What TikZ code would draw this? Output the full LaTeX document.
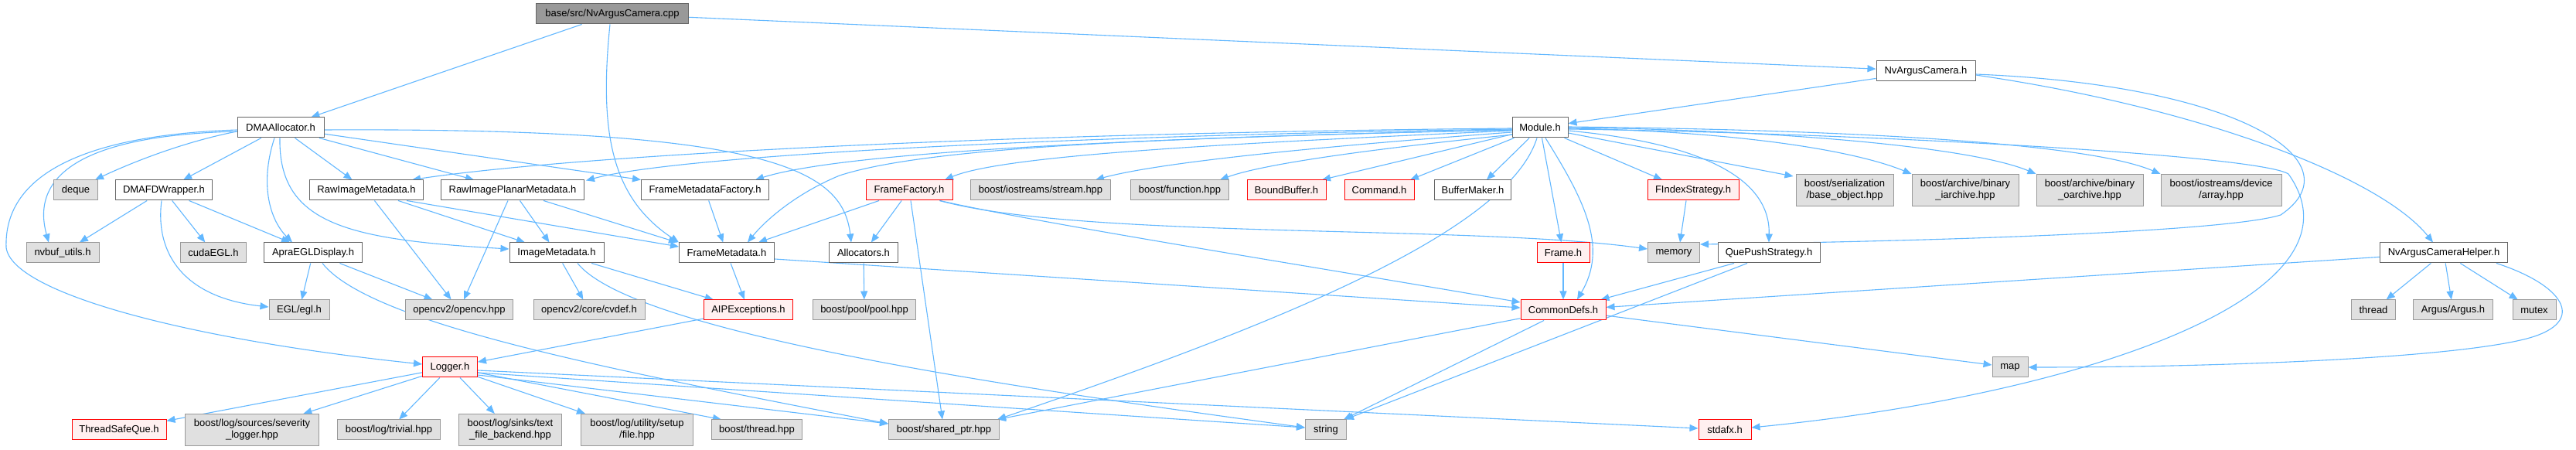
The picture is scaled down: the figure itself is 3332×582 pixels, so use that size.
\documentclass[tikz,border=0pt]{standalone}
\usepackage{fontspec}
\setmainfont{Liberation Sans}
\usetikzlibrary{arrows.meta,calc}
\definecolor{edgec}{HTML}{63B8FF}
\definecolor{wborder}{HTML}{666666}
\definecolor{gborder}{HTML}{999999}
\definecolor{gfill}{HTML}{E0E0E0}
\definecolor{rfill}{HTML}{FFF0F0}
\definecolor{rborder}{HTML}{FF0000}
\definecolor{rootfill}{HTML}{999999}
\pgfdeclarelayer{paper}
\pgfdeclarelayer{bg}
\pgfsetlayers{paper,bg,main}
\begin{document}
\begin{tikzpicture}[x=0.5pt,y=-0.5pt,
 nbase/.style={draw, line width=0.5pt, inner sep=0pt, minimum height=13pt, font=\fontsize{6.5pt}{7.5pt}\selectfont, align=center},
 wbox/.style={nbase, draw=wborder, fill=white},
 gbox/.style={nbase, draw=gborder, fill=gfill},
 rbox/.style={nbase, draw=rborder, fill=rfill},
 rootbox/.style={nbase, draw=wborder, fill=rootfill},
 tall/.style={minimum height=20.5pt},
 e/.style={draw=edgec, line width=0.55pt, -{Triangle[length=5.5pt,width=4.5pt]}},
]
\begin{pgfonlayer}{paper}
\fill[white] (0,0) rectangle (3332,582);
\end{pgfonlayer}
\useasboundingbox (0,0) rectangle (3332,582);
% row 1
\node[rootbox, minimum width=98.5pt] (cpp) at (792,18) {base/src/NvArgusCamera.cpp};
\node[wbox, minimum width=64pt] (nvcamh) at (2491,92) {NvArgusCamera.h};
\node[wbox, minimum width=56pt] (dma) at (363,165) {DMAAllocator.h};
\node[wbox, minimum width=36pt] (module) at (1992,165) {Module.h};
% row 246
\node[gbox, minimum width=28.5pt] (deque) at (98,246) {deque};
\node[wbox, minimum width=62.5pt] (dmafd) at (212,246) {DMAFDWrapper.h};
\node[wbox, minimum width=73.5pt] (rawimg) at (474,246) {RawImageMetadata.h};
\node[wbox, minimum width=92.5pt] (rawplanar) at (663,246) {RawImagePlanarMetadata.h};
\node[wbox, minimum width=82.5pt] (fmf) at (912,246) {FrameMetadataFactory.h};
\node[rbox, minimum width=56pt] (ffact) at (1176,246) {FrameFactory.h};
\node[gbox, minimum width=90.5pt] (stream) at (1346,246) {boost/iostreams/stream.hpp};
\node[gbox, minimum width=63.5pt] (func) at (1526,246) {boost/function.hpp};
\node[rbox, minimum width=51pt] (boundbuf) at (1664,246) {BoundBuffer.h};
\node[rbox, minimum width=45pt] (command) at (1784,246) {Command.h};
\node[wbox, minimum width=49.5pt] (bufmaker) at (1905,246) {BufferMaker.h};
\node[rbox, minimum width=59pt] (findex) at (2190,246) {FIndexStrategy.h};
\node[gbox, tall, minimum width=63pt] (baseobj) at (2386,246) {boost/serialization\\/base\_object.hpp};
\node[gbox, tall, minimum width=69pt] (iarch) at (2542,246) {boost/archive/binary\\\_iarchive.hpp};
\node[gbox, tall, minimum width=69pt] (oarch) at (2703,246) {boost/archive/binary\\\_oarchive.hpp};
\node[gbox, tall, minimum width=78pt] (array) at (2873,246) {boost/iostreams/device\\/array.hpp};
% row 327
\node[gbox, minimum width=47pt] (nvbuf) at (81,327) {nvbuf\_utils.h};
\node[gbox, minimum width=42.5pt] (cudaegl) at (276,327) {cudaEGL.h};
\node[wbox, minimum width=63.5pt] (apra) at (405,327) {ApraEGLDisplay.h};
\node[wbox, minimum width=61pt] (imgmeta) at (720,327) {ImageMetadata.h};
\node[wbox, minimum width=61.5pt] (fmeta) at (940,327) {FrameMetadata.h};
\node[wbox, minimum width=44.5pt] (alloc) at (1117,327) {Allocators.h};
\node[rbox, minimum width=34pt] (frame) at (2022,327) {Frame.h};
\node[gbox, minimum width=33.5pt] (memory) at (2165,327) {memory};
\node[wbox, minimum width=66pt] (quepush) at (2288,327) {QuePushStrategy.h};
\node[wbox, minimum width=82.5pt] (helper) at (3161,327) {NvArgusCameraHelper.h};
% row 401
\node[gbox, minimum width=39pt] (egl) at (387,401) {EGL/egl.h};
\node[gbox, minimum width=69.5pt] (opencv) at (594,401) {opencv2/opencv.hpp};
\node[gbox, minimum width=72pt] (cvdef) at (762,401) {opencv2/core/cvdef.h};
\node[rbox, minimum width=57.5pt] (aipexc) at (968,401) {AIPExceptions.h};
\node[gbox, minimum width=66.5pt] (pool) at (1118,401) {boost/pool/pool.hpp};
\node[rbox, minimum width=55pt] (common) at (2022,401) {CommonDefs.h};
\node[gbox, minimum width=28.5pt] (thread) at (3070,401) {thread};
\node[gbox, minimum width=51.5pt] (argus) at (3173,401) {Argus/Argus.h};
\node[gbox, minimum width=28pt] (mutex) at (3278,401) {mutex};
% row 475
\node[rbox, minimum width=35.5pt] (logger) at (582,475) {Logger.h};
\node[gbox, minimum width=23pt] (map) at (2600,475) {map};
% row 556
\node[rbox, minimum width=61pt] (tsq) at (154,556) {ThreadSafeQue.h};
\node[gbox, tall, minimum width=86.5pt] (severity) at (326,556) {boost/log/sources/severity\\\_logger.hpp};
\node[gbox, minimum width=66.5pt] (trivial) at (503,556) {boost/log/trivial.hpp};
\node[gbox, tall, minimum width=66.5pt] (textfile) at (660,556) {boost/log/sinks/text\\\_file\_backend.hpp};
\node[gbox, tall, minimum width=72.5pt] (setupfile) at (824,556) {boost/log/utility/setup\\/file.hpp};
\node[gbox, minimum width=58.5pt] (bthread) at (979,556) {boost/thread.hpp};
\node[gbox, minimum width=71.5pt] (sharedptr) at (1221,556) {boost/shared\_ptr.hpp};
\node[gbox, minimum width=26.5pt] (string) at (1715,556) {string};
\node[rbox, minimum width=34pt] (stdafx) at (2231,556) {stdafx.h};

\begin{pgfonlayer}{bg}
% cpp
\draw[e] (cpp) -- (dma);
\draw[e] ($(cpp.south)+(-3,0)$) .. controls (775,170) and (790,255) .. (fmeta.north west);
\draw[e] (cpp) -- (nvcamh);
% NvArgusCamera.h
\draw[e] (nvcamh) -- (module);
\draw[e] ($(nvcamh.east)+(0,5)$) .. controls (2850,140) and (3080,230) .. ($(helper.north)+(-14,0)$);
\draw[e] ($(nvcamh.east)+(0,4)$) .. controls (2900,110) and (3050,210) .. (2950,278) .. controls (2880,300) and (2500,312) .. ($(memory.east)+(0,-11)$);
% Module.h
\draw[e] ($(module.east)+(0,2)$) .. controls (2400,172) and (2920,200) .. (2960,225) .. controls (3070,380) and (2700,510) .. ($(stdafx.east)+(0,-3)$);
\draw[e] ($(module.west)+(0,4)$) .. controls (1600,185) and (1300,200) .. ($(ffact.north)+(46,0)$);
\draw[e] ($(module.west)+(0,6)$) .. controls (1700,190) and (1500,210) .. ($(stream.north)+(71,0)$);
\draw[e] ($(module.west)+(2,9)$) .. controls (1800,190) and (1640,210) .. ($(func.north)+(52,0)$);
\draw[e] (module) -- ($(boundbuf.north)+(46,0)$);
\draw[e] (module) -- ($(command.north)+(40,0)$);
\draw[e] (module) -- ($(bufmaker.north)+(18,0)$);
\draw[e] (module) -- ($(findex.north)+(-40,0)$);
\draw[e] (module) -- ($(baseobj.north west)+(-3,3)$);
\draw[e] ($(module.east)+(0,1)$) .. controls (2250,170) and (2400,195) .. (iarch.north west);
\draw[e] ($(module.east)+(0,0)$) .. controls (2300,168) and (2550,190) .. (oarch.north west);
\draw[e] ($(module.east)+(0,-1)$) .. controls (2400,168) and (2700,185) .. (array.north west);
\draw[e] ($(module.east)+(0,4)$) .. controls (2200,185) and (2290,230) .. (quepush.north);
\draw[e] (module) -- (frame);
\draw[e] ($(module.south)+(7,0)$) .. controls (2050,260) and (2080,320) .. ($(common.north)+(18,0)$);
\draw[e] ($(module.south)+(-4,0)$) .. controls (1950,300) and (1650,420) .. ($(sharedptr.north east)+(-3,0)$);
\draw[e] ($(module.west)+(0,3)$) .. controls (1500,178) and (1200,190) .. (1086,227) .. controls (1030,250) and (990,285) .. ($(fmeta.north)+(27,0)$);
\draw[e] ($(module.west)+(0,1)$) .. controls (1300,172) and (750,200) .. ($(rawimg.north)+(59,0)$);
\draw[e] ($(module.west)+(0,2)$) .. controls (1400,175) and (880,200) .. ($(rawplanar.north east)+(2,1)$);
\draw[e] ($(module.west)+(0,3)$) .. controls (1400,180) and (1080,200) .. ($(fmf.north)+(65,0)$);
% DMAAllocator.h
\draw[e] ($(dma.west)+(0,5)$) .. controls (230,185) and (160,215) .. ($(deque.north east)+(-4,0)$);
\draw[e] (dma) -- (dmafd);
\draw[e] (dma) -- (rawimg);
\draw[e] (dma) -- (rawplanar);
\draw[e] (dma) -- (fmf.north west);
\draw[e] ($(dma.east)+(0,3)$) .. controls (1000,165) and (1090,220) .. ($(alloc.north)+(-16,0)$);
\draw[e] ($(dma.west)+(0,5)$) .. controls (100,175) and (40,230) .. ($(nvbuf.north)+(-18,0)$);
\draw[e] ($(dma.west)+(0,3)$) .. controls (100,175) and (5,230) .. (8,320) .. controls (15,380) and (250,440) .. ($(logger.west)+(0,-4)$);
\draw[e] ($(dma.south)+(-1,0)$) .. controls (360,290) and (450,310) .. ($(imgmeta.west)+(0,-5)$);
\draw[e] ($(dma.south)+(-8,0)$) .. controls (335,240) and (350,285) .. ($(apra.north)+(-27,0)$);
% DMAFDWrapper.h
\draw[e] (dmafd) -- (nvbuf);
\draw[e] (dmafd) -- (cudaegl);
\draw[e] (dmafd) -- ($(apra.north)+(-30,0)$);
\draw[e] ($(dmafd.south)+(-3,0)$) .. controls (200,330) and (240,385) .. ($(egl.west)+(0,-4)$);
% ApraEGLDisplay.h
\draw[e] (apra) -- (egl);
\draw[e] (apra) -- (opencv);
\draw[e] ($(apra.south)+(12,0)$) .. controls (480,420) and (800,480) .. ($(sharedptr.west)+(0,-8)$);
% RawImageMetadata.h
\draw[e] (rawimg) -- (imgmeta);
\draw[e] (rawimg) -- (opencv);
\draw[e] ($(rawimg.south)+(52,0)$) -- ($(fmeta.west)+(0,-8)$);
% RawImagePlanarMetadata.h
\draw[e] (rawplanar) -- (imgmeta);
\draw[e] (rawplanar) -- (opencv);
\draw[e] ($(rawplanar.south)+(40,0)$) -- ($(fmeta.north west)+(-2,0)$);
% FrameMetadataFactory.h
\draw[e] (fmf) -- (fmeta);
% FrameMetadata.h
\draw[e] ($(fmeta.east)+(0,8)$) -- ($(common.west)+(0,-3)$);
\draw[e] (fmeta) -- (aipexc);
% ImageMetadata.h
\draw[e] (imgmeta) -- (cvdef);
\draw[e] (imgmeta) -- (aipexc);
\draw[e] ($(imgmeta.south)+(27,0)$) .. controls (820,430) and (1300,500) .. ($(string.west)+(0,-3)$);
% AIPExceptions.h
\draw[e] (aipexc) -- (logger);
% Logger.h
\draw[e] (logger) -- (tsq);
\draw[e] (logger) -- (severity);
\draw[e] (logger) -- (trivial);
\draw[e] (logger) -- (textfile);
\draw[e] (logger) -- ($(setupfile.north west)+(6,0)$);
\draw[e] (logger) -- ($(bthread.north)+(-46,0)$);
\draw[e] ($(logger.east)+(0,4)$) -- ($(stdafx.west)+(0,-2)$);
\draw[e] ($(logger.east)+(0,7)$) -- ($(string.west)+(0,-3)$);
\draw[e] ($(logger.east)+(0,10)$) -- ($(sharedptr.west)+(0,-8)$);
% Allocators.h
\draw[e] (alloc) -- (pool);
% FrameFactory.h
\draw[e] (ffact) -- ($(fmeta.north)+(41,0)$);
\draw[e] (ffact) -- (alloc);
\draw[e] ($(ffact.south)+(2,0)$) -- ($(sharedptr.north)+(-2,0)$);
\draw[e] ($(ffact.south east)+(-17,0)$) .. controls (1350,290) and (1700,345) .. ($(common.west)+(0,-10)$);
\draw[e] ($(ffact.south east)+(-17,0)$) .. controls (1400,310) and (1900,290) .. ($(memory.west)+(0,-5)$);
% others
\draw[e] (frame) -- (common);
\draw[e] ($(findex.south)+(-9,0)$) -- ($(memory.north)+(8,0)$);
\draw[e] ($(quepush.south)+(-45,0)$) -- ($(common.north east)+(-7,0)$);
\draw[e] ($(quepush.south)+(-28,0)$) -- ($(string.north)+(25,0)$);
% CommonDefs.h
\draw[e] (common) -- ($(sharedptr.north east)+(-3,0)$);
\draw[e] ($(common.south)+(-25,0)$) -- ($(string.north)+(23,0)$);
\draw[e] (common) -- (map);
% NvArgusCameraHelper.h
\draw[e] (helper) -- (common);
\draw[e] (helper) -- (thread);
\draw[e] (helper) -- (argus);
\draw[e] (helper) -- (mutex);
\draw[e] ($(helper.south east)+(-15,0)$) .. controls (3320,370) and (3350,420) .. (3260,440) .. controls (3150,465) and (2850,475) .. (map.east);
\end{pgfonlayer}
\end{tikzpicture}
\end{document}
